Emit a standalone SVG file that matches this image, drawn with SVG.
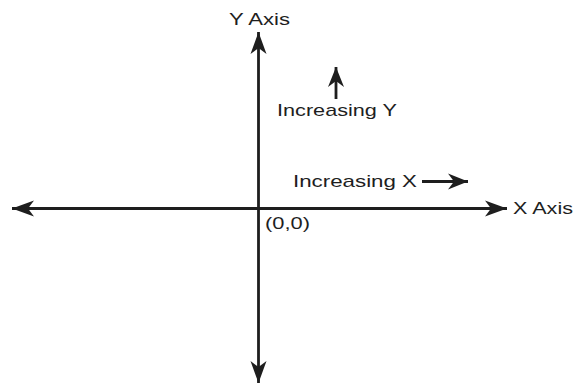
<svg xmlns="http://www.w3.org/2000/svg" width="577" height="383" viewBox="0 0 577 383">
  <style>
    .ax { stroke: #1e1e1e; stroke-width: 2.8; fill: none; }
    .lbl { font-family: "Liberation Sans", Arial, sans-serif; font-size: 17px; fill: #1e1e1e; }
  </style>
  <defs>
    <marker id="big" markerUnits="userSpaceOnUse" markerWidth="26" markerHeight="20" viewBox="-24 -10 26 20" refX="0" refY="0" orient="auto-start-reverse">
      <path d="M0,0 L-22,-8 L-16,0 L-22,8 Z" fill="#1e1e1e"/>
    </marker>
    <marker id="small" markerUnits="userSpaceOnUse" markerWidth="24" markerHeight="20" viewBox="-22 -10 24 20" refX="0" refY="0" orient="auto">
      <path d="M0,0 L-20,-8 L-14,0 L-20,8 Z" fill="#1e1e1e"/>
    </marker>
  </defs>
  <rect width="577" height="383" fill="#fff"/>
  <g id="connectors">
    <line id="x-axis" class="ax" x1="12" y1="208.5" x2="507" y2="208.5" marker-start="url(#big)" marker-end="url(#big)"/>
    <line id="y-axis" class="ax" x1="258.5" y1="32" x2="258.5" y2="383" marker-start="url(#big)" marker-end="url(#big)"/>
    <line id="inc-y-arrow" class="ax" x1="336" y1="99" x2="336" y2="67" marker-end="url(#small)"/>
    <line id="inc-x-arrow" class="ax" x1="422" y1="181.5" x2="468" y2="181.5" marker-end="url(#small)"/>
  </g>
  <g id="y-axis-label"><text class="lbl" x="229" y="25" textLength="61" lengthAdjust="spacingAndGlyphs">Y Axis</text></g>
  <g id="x-axis-label"><text class="lbl" x="513" y="213.5" textLength="60" lengthAdjust="spacingAndGlyphs">X Axis</text></g>
  <g id="inc-y-label"><text class="lbl" x="277" y="116" textLength="120" lengthAdjust="spacingAndGlyphs">Increasing Y</text></g>
  <g id="inc-x-label"><text class="lbl" x="293" y="187" textLength="124" lengthAdjust="spacingAndGlyphs">Increasing X</text></g>
  <g id="origin-label"><text class="lbl" x="265" y="228.5" textLength="45" lengthAdjust="spacingAndGlyphs">(0,0)</text></g>
</svg>
